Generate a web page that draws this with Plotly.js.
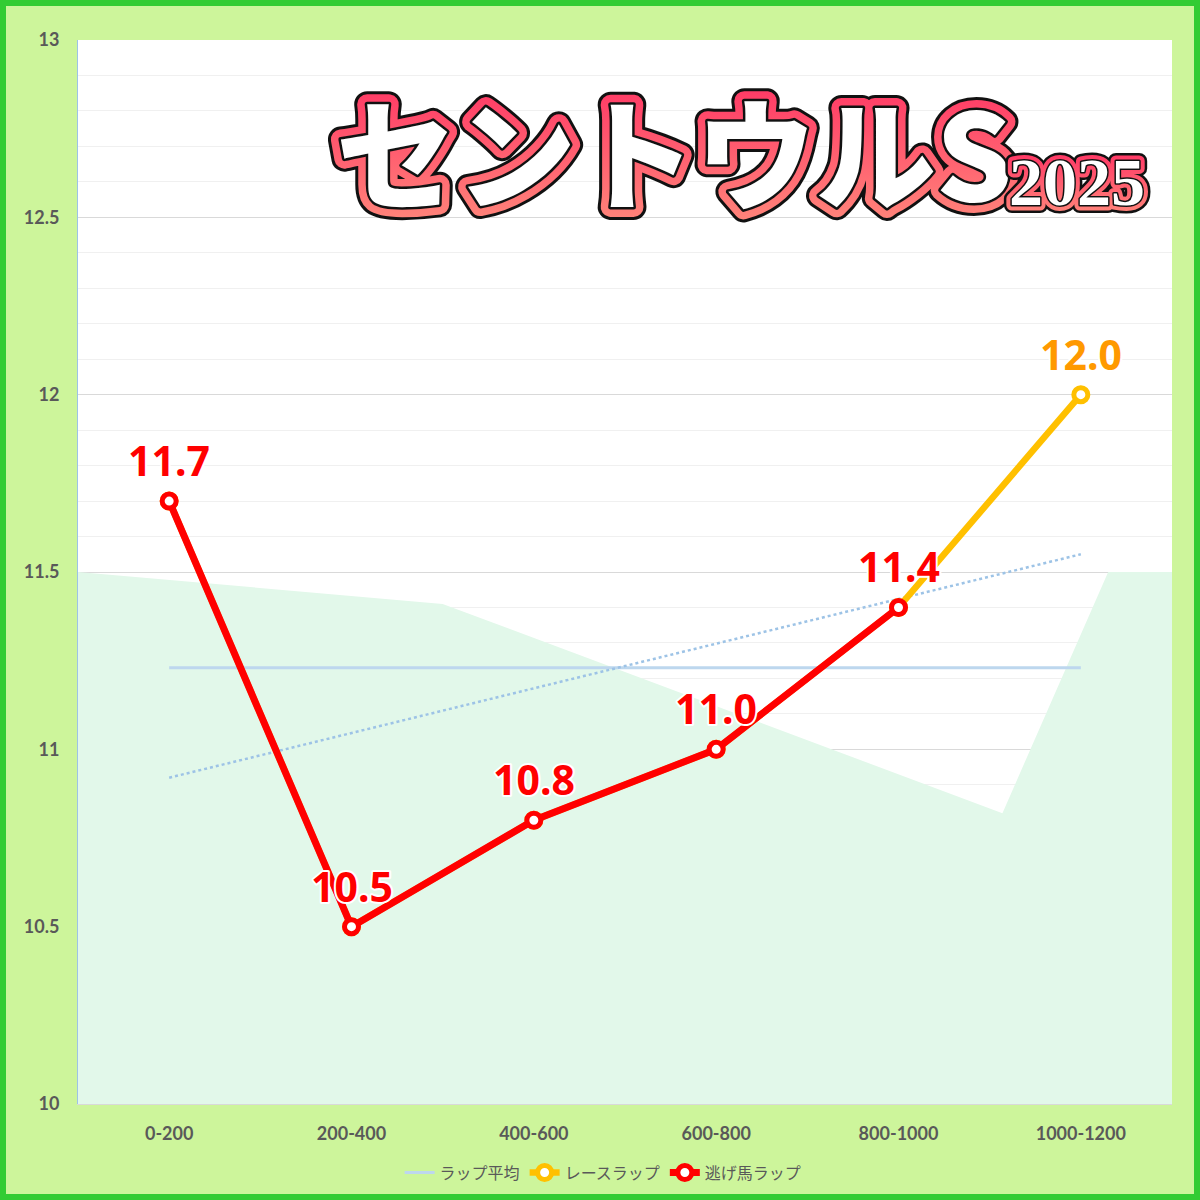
<!DOCTYPE html>
<html>
<head>
<meta charset="utf-8">
<script src="https://cdn.plot.ly/plotly-3.0.1.min.js"></script>
<style>
  html, body { margin: 0; padding: 0; background: #cdf59b; }
  #chart { width: 1200px; height: 1200px; box-sizing: border-box; border: 6px solid #33cc33; background: #cdf59b; }
  /* title layers: black outline, pink band, white inside */
  g.annotation[data-index="0"] text { stroke: #111; stroke-width: 26px; stroke-linejoin: round; paint-order: stroke; }
  g.annotation[data-index="1"] text { stroke: url(#pinkGrad); stroke-width: 20px; stroke-linejoin: round; paint-order: stroke; }
  g.annotation[data-index="2"] text { stroke: #111; stroke-width: 5px; stroke-linejoin: round; paint-order: stroke; }
  g.annotation[data-index="3"] text { stroke: #111; stroke-width: 16px; stroke-linejoin: round; paint-order: stroke; }
  g.annotation[data-index="4"] text { stroke: url(#pinkGrad); stroke-width: 11px; stroke-linejoin: round; paint-order: stroke; }
  g.annotation[data-index="5"] text { stroke: #111; stroke-width: 3px; stroke-linejoin: round; paint-order: stroke; }
</style>
</head>
<body>
<svg width="0" height="0" style="position:absolute">
  <defs>
    <linearGradient id="pinkGrad" x1="0" y1="0" x2="0" y2="1">
      <stop offset="0" stop-color="#ff2c62"/>
      <stop offset="1" stop-color="#ff8c7c"/>
    </linearGradient>
  </defs>
</svg>
<div id="chart"></div>
<script>
// data
var categories = ['0-200', '200-400', '400-600', '600-800', '800-1000', '1000-1200'];
var race_lap = [11.7, 10.5, 10.8, 11.0, 11.4, 12.0];
var nige_lap = [11.7, 10.5, 10.8, 11.0, 11.4];
var lap_avg = [11.23, 11.23, 11.23, 11.23, 11.23, 11.23];
var trend_y = [10.92, 11.55];
// background band (light green area)
var bg_x = [-0.5, 1.5, 4.57, 5.15, 5.5];
var bg_y = [11.5, 11.41, 10.82, 11.5, 11.5];

var idx = categories.map(function(c, i) { return i; });

var bgTrace = {
    x: bg_x, y: bg_y,
    type: 'scatter', mode: 'lines',
    fill: 'tozeroy', fillcolor: '#e2f8ea',
    line: {width: 0, color: '#e2f8ea'},
    showlegend: false, hoverinfo: 'skip'
};

var avgTrace = {
    x: idx, y: lap_avg,
    type: 'scatter', mode: 'lines',
    name: 'ラップ平均',
    line: {color: '#bdd7ee', width: 3}
};

var trendTrace = {
    x: [idx[0], idx[idx.length - 1]], y: trend_y,
    type: 'scatter', mode: 'lines',
    line: {color: '#9dc3e6', width: 2.5, dash: 'dot'},
    showlegend: false, hoverinfo: 'skip'
};

var raceTrace = {
    x: idx, y: race_lap,
    type: 'scatter', mode: 'lines+markers',
    name: 'レースラップ',
    line: {color: '#ffc000', width: 6.5},
    marker: {size: 14, color: '#ffffff', line: {color: '#ffc000', width: 5}}
};

var nigeTrace = {
    x: idx.slice(0, nige_lap.length), y: nige_lap,
    type: 'scatter', mode: 'lines+markers',
    name: '逃げ馬ラップ',
    line: {color: '#ff0000', width: 7},
    marker: {size: 14, color: '#ffffff', line: {color: '#ff0000', width: 5}}
};

var titleFont = '"Noto Sans CJK JP", sans-serif';
var yearFont = '"Liberation Serif", serif';

function titleLayer(txt, x, y, size, fam, col) {
    return {text: txt, xref: 'paper', yref: 'paper', x: x, y: y, xanchor: 'left', yanchor: 'middle',
        showarrow: false, font: {family: fam, size: size, weight: 900, color: col}};
}

var annotations = [
    titleLayer('セントウルS', 0.234, 0.898, 120, titleFont, '#111'),
    titleLayer('セントウルS', 0.234, 0.898, 120, titleFont, '#ff5a78'),
    titleLayer('セントウルS', 0.234, 0.898, 120, titleFont, '#ffffff'),
    titleLayer('2025', 0.849, 0.867, 68, yearFont, '#111'),
    titleLayer('2025', 0.849, 0.867, 68, yearFont, '#ff5a78'),
    titleLayer('2025', 0.849, 0.867, 68, yearFont, '#ffffff')
];

// value labels
var labelFont = '"Noto Sans", sans-serif';
nige_lap.forEach(function(v, i) {
    annotations.push({x: i, y: v, text: v.toFixed(1), showarrow: false, yshift: 41,
        font: {family: labelFont, size: 41, weight: 'bold', color: '#ff0000'}});
});
var last = race_lap.length - 1;
annotations.push({x: last, y: race_lap[last], text: race_lap[last].toFixed(1), showarrow: false, yshift: 41,
    font: {family: labelFont, size: 41, weight: 'bold', color: '#ff9900'}});

var layout = {
    width: 1188, height: 1188,
    margin: {l: 72, r: 22, t: 34, b: 90},
    paper_bgcolor: '#cdf59b',
    plot_bgcolor: '#ffffff',
    font: {family: '"Lato", "Noto Sans CJK JP", sans-serif', color: '#595959'},
    xaxis: {
        type: 'linear', range: [-0.5, 5.5],
        tickvals: idx, ticktext: categories,
        tickfont: {size: 18, weight: 'bold', color: '#595959'},
        showgrid: false, zeroline: false,
        showline: true, linecolor: '#d9d9d9', linewidth: 1,
        ticks: '', ticklabelstandoff: 13
    },
    yaxis: {
        range: [10, 13], dtick: 0.5,
        tickfont: {size: 18, weight: 'bold', color: '#595959'},
        gridcolor: '#d9d9d9', gridwidth: 1,
        minor: {dtick: 0.1, showgrid: true, gridcolor: '#f0f0f0', gridwidth: 1},
        zeroline: false,
        showline: true, linecolor: '#9dc3e6', linewidth: 1,
        ticks: '', ticklabelstandoff: 14
    },
    showlegend: true,
    legend: {
        orientation: 'h', x: 0.48, xanchor: 'center',
        yref: 'container', y: 0.018, yanchor: 'middle',
        font: {family: '"Noto Sans CJK JP", sans-serif', size: 16, color: '#595959'},
        bgcolor: 'rgba(0,0,0,0)', itemwidth: 30, tracegroupgap: 0
    },
    annotations: annotations
};

Plotly.newPlot('chart', [bgTrace, avgTrace, trendTrace, raceTrace, nigeTrace], layout, {displayModeBar: false})
    .then(function() {
        // thin white outline on value labels
        document.querySelectorAll('g.annotation').forEach(function(g) {
            if (parseInt(g.getAttribute('data-index')) >= 6) {
                g.querySelectorAll('text').forEach(function(t) {
                    t.style.stroke = '#ffffff';
                    t.style.strokeWidth = '4px';
                    t.style.strokeLinejoin = 'round';
                    t.style.paintOrder = 'stroke';
                });
            }
        });
    });
</script>
</body>
</html>
